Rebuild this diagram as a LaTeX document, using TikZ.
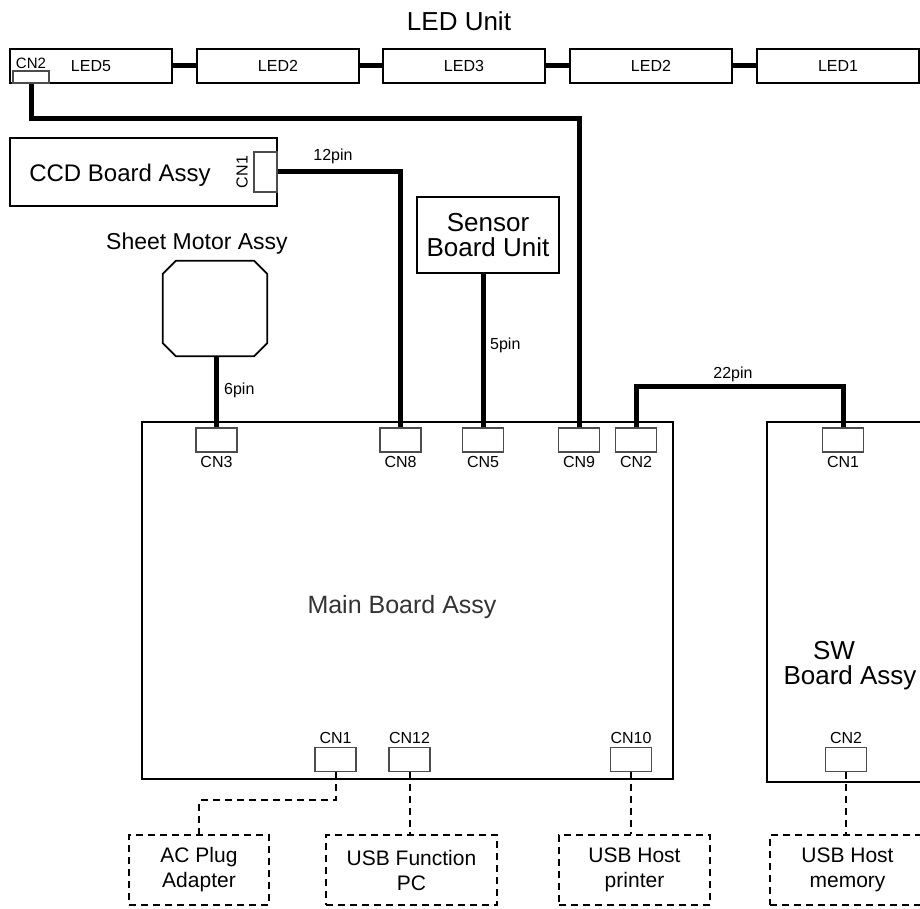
\documentclass[tikz,border=0pt]{standalone}
\usepackage{fontspec}
\setmainfont{Liberation Sans}
\usepackage{tikz}
\usetikzlibrary{calc, positioning}

\begin{document}
\begin{tikzpicture}[x=1pt, y=-1pt,
    board/.style={draw, line width=1.8pt, inner sep=0pt},
    ledbox/.style={draw, line width=1.8pt, minimum width=162pt, minimum height=34pt,
                   inner sep=0pt, font=\fontsize{16}{19}\selectfont},
    cnbox/.style={draw=black!70, line width=1.2pt, minimum width=41pt,
                  minimum height=24pt, inner sep=0pt},
    cnlbl/.style={font=\fontsize{16}{19}\selectfont, inner sep=0pt},
    optbox/.style={draw, line width=2pt, dash pattern=on 7pt off 5pt,
                   minimum height=70pt, inner sep=0pt, align=center,
                   font=\fontsize{21}{25}\selectfont},
    bigtxt/.style={font=\fontsize{26}{25}\selectfont, align=center, inner sep=0pt},
    wire/.style={line width=5pt},
    optwire/.style={line width=2pt, dash pattern=on 7pt off 5pt}]
  \useasboundingbox (0,0) rectangle (920,909);
  \clip (0,0) rectangle (920,909);

  % LED unit
  \node[bigtxt] (ledtitle) at (459,21) {LED Unit};
  \node[ledbox] (led5)  at (91,66)  {LED5};
  \node[ledbox] (led2a) at (278,66) {LED2};
  \node[ledbox] (led3)  at (464,66) {LED3};
  \node[ledbox] (led2b) at (651,66) {LED2};
  \node[ledbox] (led1)  at (838,66) {LED1};
  \foreach \a/\b in {led5/led2a, led2a/led3, led3/led2b, led2b/led1}
    \draw[wire] (\a.east) -- (\b.west);
  \node[cnbox, minimum width=36pt, minimum height=12pt] (ledcn2) at (31,77) {};
  \node[cnlbl, font=\fontsize{15}{18}\selectfont] (ledcn2lbl) at (31,63) {CN2};

  % CCD board
  \node[board, minimum width=267pt, minimum height=68pt] (ccd) at (143.5,172) {};
  \node[font=\fontsize{24}{28}\selectfont, inner sep=0pt] (ccdlbl) at (120,175) {CCD Board Assy};
  \node[cnbox, minimum width=23pt, minimum height=40pt] (ccdcn1) at (265.5,172) {};
  \node[cnlbl, rotate=90] (ccdcn1lbl) at (242,172) {CN1};

  % Sensor board
  \node[board, bigtxt, minimum width=142pt, minimum height=76pt] (sensor) at (488,235)
        {Sensor\\Board Unit};

  % Sheet motor (octagon drawn round an empty node)
  \node[font=\fontsize{23}{27}\selectfont, inner sep=0pt] (motorlbl) at (197,244) {Sheet Motor Assy};
  \node[minimum width=104pt, minimum height=95pt, inner sep=0pt] (motor) at (215,308.5) {};
  \draw[line width=1.8pt]
    ($(motor.north west)+(13,0)$) -- ($(motor.north east)+(-13,0)$)
    -- ($(motor.north east)+(0,13)$) -- ($(motor.south east)+(0,-13)$)
    -- ($(motor.south east)+(-13,0)$) -- ($(motor.south west)+(13,0)$)
    -- ($(motor.south west)+(0,-13)$) -- ($(motor.north west)+(0,13)$) -- cycle;

  % Main board
  \node[board, minimum width=531pt, minimum height=357pt] (main) at (407.5,600.5) {};
  \node[font=\fontsize{25}{30}\selectfont, text=black!80, inner sep=0pt] (mainlbl) at (402,607)
        {Main Board Assy};
  \foreach \n/\x/\t in {cn3/216.5/CN3, cn8/400.5/CN8, cn5/483/CN5, cn9/579/CN9, cn2/636/CN2}
    \node[cnbox, label={[cnlbl, label distance=4pt]below:\t}] (\n) at (\x,440) {};
  \foreach \n/\x/\t in {mcn1/335.5/CN1, cn12/409.5/CN12, cn10/631/CN10}
    \node[cnbox, label={[cnlbl, label distance=3pt]above:\t}] (\n) at (\x,759.5) {};

  % SW board
  \node[board, minimum width=166pt, minimum height=360pt] (sw) at (850,602) {};
  \node[bigtxt] (swlbl) at (850,666) {SW\hspace*{32pt}\\Board Assy};
  \node[cnbox, label={[cnlbl, label distance=4pt]below:CN1}] (swcn1) at (843,440) {};
  \node[cnbox, label={[cnlbl, label distance=3pt]above:CN2}] (swcn2) at (846,759.5) {};

  % Harnesses
  \draw[wire] (ledcn2.south) -- ++(0,35) -| (cn9.north);
  \draw[wire] (ccdcn1.east) -| (cn8.north);
  \node[cnlbl] (pin12) at (333,156) {12pin};
  \draw[wire] (cn5.north) -- (cn5.north |- sensor.south);
  \node[cnlbl, anchor=west] (pin5) at (490,345) {5pin};
  \draw[wire] (cn3.north) -- (cn3.north |- motor.south);
  \node[cnlbl, anchor=west] (pin6) at (224,390) {6pin};
  \draw[wire] (cn2.north) -- ++(0,-41) -| (swcn1.north);
  \node[cnlbl] (pin22) at (733,374) {22pin};

  % External devices
  \node[optbox, minimum width=140pt] (acplug) at (199,870) {AC Plug\\Adapter};
  \node[optbox, minimum width=171pt] (usbpc)  at (411.5,870) {USB Function\\PC};
  \node[optbox, minimum width=151pt] (usbprn) at (634.5,870) {USB Host\\printer};
  \node[optbox, minimum width=155pt] (usbmem) at (847.5,870) {USB Host\\memory};
  \draw[optwire] (mcn1.south) -- ++(0,28) -| (acplug.north);
  \draw[optwire] (cn12.south) -- (cn12.south |- usbpc.north);
  \draw[optwire] (cn10.south) -- (cn10.south |- usbprn.north);
  \draw[optwire] (swcn2.south) -- (swcn2.south |- usbmem.north);
\end{tikzpicture}
\end{document}
